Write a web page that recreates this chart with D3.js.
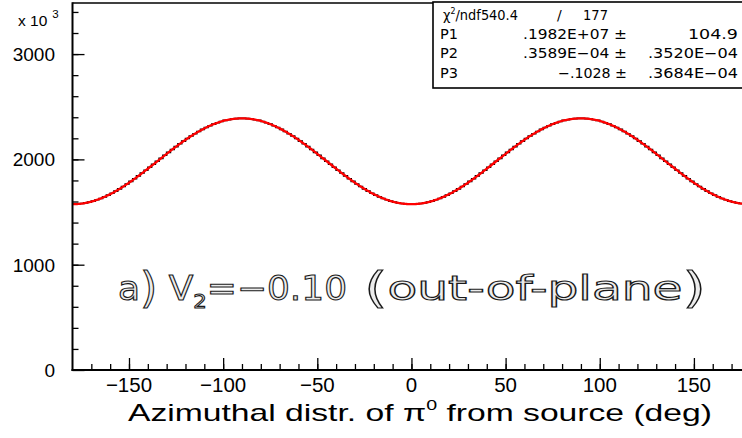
<!DOCTYPE html>
<html>
<head>
<meta charset="utf-8">
<script src="https://cdn.jsdelivr.net/npm/d3@7"></script>
<style>
  html, body { margin: 0; padding: 0; background: #fff; }
  svg { display: block; }
  text { font-family: "Liberation Sans", Arial, sans-serif; fill: #000; }
</style>
</head>
<body>
<svg id="chart" width="742" height="438"></svg>
<script>
// Histogram: azimuthal distribution, 180 bins of 2 deg over [-180, 180], counts in units of 10^3
const xDomain = [-180, 180];
const binCount = 180;
const counts = [
  1575,1577,1581,1587,1594,1604,1616,1629,1644,1661,1679,1699,1720,1742,1766,1791,1816,1843,1870,1897,1925,1954,1982,
  2010,2039,2067,2094,2121,2148,2173,2198,2222,2244,2265,2285,2303,2320,2335,2348,2360,2370,2377,2383,2387,2389,
  2389,2387,2383,2377,2370,2360,2348,2335,2320,2303,2285,2265,2244,2222,2198,2173,2148,2121,2094,2067,2039,2010,
  1982,1954,1925,1897,1870,1843,1816,1791,1766,1742,1720,1699,1679,1661,1644,1629,1616,1604,1594,1587,1581,1577,1575,
  1575,1577,1581,1587,1594,1604,1616,1629,1644,1661,1679,1699,1720,1742,1766,1791,1816,1843,1870,1897,1925,1954,1982,
  2010,2039,2067,2094,2121,2148,2173,2198,2222,2244,2265,2285,2303,2320,2335,2348,2360,2370,2377,2383,2387,2389,
  2389,2387,2383,2377,2370,2360,2348,2335,2320,2303,2285,2265,2244,2222,2198,2173,2148,2121,2094,2067,2039,2010,
  1982,1954,1925,1897,1870,1843,1816,1791,1766,1742,1720,1699,1679,1661,1644,1629,1616,1604,1594,1587,1581,1577,1575
];

// Fit parameters: P1 * (1 + 2 P2 cos(phi) + 2 P3 cos(2 phi))
const fitParams = { P1: 0.1982e7, P2: 0.3589e-4, P3: -0.1028 };
const fitScale = 1e3;

// Statistics box rows
const chiRow = { label: "/ndf", chi2: "540.4", ndf: "177" };
const paramRows = [
  { name: "P1", value: ".1982E+07 \u00b1", error: "104.9" },
  { name: "P2", value: ".3589E\u221204 \u00b1", error: ".3520E\u221204" },
  { name: "P3", value: "\u2212.1028 \u00b1", error: ".3684E\u221204" }
];

const xMajorTicks = [-150, -100, -50, 0, 50, 100, 150];
const yMajorTicks = [0, 1000, 2000, 3000];
const xTitle = "Azimuthal distr. of \u03c0";
const xTitleRest = " from source  (deg)";

(function draw() {
  const svg = d3.select("#chart");
  const pLeft = 72.5, pRight = 750.4, pTop = 3, pBottom = 370;

  const x = d3.scaleLinear().domain(xDomain).range([pLeft, pRight]);
  const y = d3.scaleLinear().domain([0, 3485]).range([pBottom, pTop]);

  svg.append("defs").append("clipPath").attr("id", "plotclip")
    .append("rect").attr("x", pLeft).attr("y", pTop).attr("width", pRight - pLeft).attr("height", pBottom - pTop);

  const plot = svg.append("g").attr("clip-path", "url(#plotclip)");

  // Histogram as steps
  const binWidth = (xDomain[1] - xDomain[0]) / binCount;
  const stepPts = counts.map((c, i) => [xDomain[0] + i * binWidth, c]);
  stepPts.push([xDomain[1], counts[counts.length - 1]]);
  plot.append("path")
    .attr("d", d3.line().x(d => x(d[0])).y(d => y(d[1])).curve(d3.curveStepAfter)(stepPts))
    .attr("fill", "none").attr("stroke", "#000").attr("stroke-width", 1.6);

  // Fit curve
  const fitFn = phi => {
    const r = phi * Math.PI / 180;
    return fitParams.P1 * (1 + 2 * fitParams.P2 * Math.cos(r) + 2 * fitParams.P3 * Math.cos(2 * r)) / fitScale;
  };
  const fitPts = d3.range(xDomain[0], xDomain[1] + 0.25, 0.5).map(p => [p, fitFn(p)]);
  plot.append("path")
    .attr("d", d3.line().x(d => x(d[0])).y(d => y(d[1])).curve(d3.curveLinear)(fitPts))
    .attr("fill", "none").attr("stroke", "#f00").attr("stroke-width", 2.3);

  // Frame
  svg.append("line").attr("x1", pLeft).attr("x2", pRight).attr("y1", pTop).attr("y2", pTop)
    .attr("stroke", "#000").attr("stroke-width", 1.6);

  // Axes with major/minor ticks
  const xAxisG = svg.append("g").attr("transform", `translate(0,${pBottom})`);
  xAxisG.call(d3.axisTop(x).tickValues(d3.range(-170, 181, 10)).tickSize(6).tickFormat(""));
  xAxisG.append("g").call(d3.axisTop(x).tickValues(xMajorTicks).tickSize(12).tickFormat(""));
  xAxisG.selectAll(".domain").remove();
  xAxisG.selectAll("line").attr("stroke", "#000").attr("stroke-width", 1.3);
  svg.append("line").attr("x1", pLeft - 1).attr("x2", pRight).attr("y1", pBottom).attr("y2", pBottom)
    .attr("stroke", "#000").attr("stroke-width", 2);
  svg.selectAll(".xlab").data(xMajorTicks).enter().append("text")
    .attr("x", d => x(d)).attr("y", 392).attr("text-anchor", "middle")
    .attr("font-size", 20.5).text(d => d < 0 ? "\u2212" + Math.abs(d) : String(d));

  const yAxisG = svg.append("g").attr("transform", `translate(${pLeft},0)`);
  yAxisG.call(d3.axisRight(y).tickValues(d3.range(200, 3485, 200)).tickSize(6).tickFormat(""));
  yAxisG.append("g").call(d3.axisRight(y).tickValues(yMajorTicks).tickSize(12).tickFormat(""));
  yAxisG.selectAll(".domain").remove();
  yAxisG.selectAll("line").attr("stroke", "#000").attr("stroke-width", 1.3);
  svg.append("line").attr("x1", pLeft).attr("x2", pLeft).attr("y1", pTop - 0.8).attr("y2", pBottom + 1)
    .attr("stroke", "#000").attr("stroke-width", 2);
  svg.selectAll(".ylab").data(yMajorTicks).enter().append("text")
    .attr("x", 55).attr("y", d => y(d) + 7).attr("text-anchor", "end")
    .attr("font-size", 19).text(d => String(d));

  // Axis multiplier
  const mult = svg.append("text").attr("x", 18).attr("y", 26).attr("font-size", 15.5);
  mult.append("tspan").text("x 10");
  mult.append("tspan").attr("dx", 5).attr("dy", -8).attr("font-size", 11.5).text("3");

  // X axis title
  const xt = svg.append("text").attr("x", 128).attr("y", 421).attr("font-size", 24)
    .attr("textLength", 584).attr("lengthAdjust", "spacingAndGlyphs");
  xt.append("tspan").text(xTitle);
  xt.append("tspan").attr("dy", -11).attr("font-size", 14).text("0");
  xt.append("tspan").attr("dy", 11).text(xTitleRest);

  // Statistics box
  const box = svg.append("g");
  box.append("rect").attr("x", 433).attr("y", 2).attr("width", 330).attr("height", 86)
    .attr("fill", "#fff").attr("stroke", "#000").attr("stroke-width", 1.6);
  const fs = 14;
  const boxText = (xx, yy, str, w) => {
    const t = box.append("text").attr("x", xx).attr("y", yy).attr("font-size", fs)
      .style("font-family", "'DejaVu Sans', sans-serif").text(str);
    if (w) t.attr("textLength", w).attr("lengthAdjust", "spacingAndGlyphs");
    return t;
  };
  const chiText = box.append("text").attr("x", 443).attr("y", 20).attr("font-size", fs)
    .style("font-family", "'DejaVu Sans', sans-serif")
    .attr("textLength", 75).attr("lengthAdjust", "spacingAndGlyphs");
  chiText.append("tspan").text("\u03c7");
  chiText.append("tspan").attr("dy", -6).attr("font-size", 8.5).text("2");
  chiText.append("tspan").attr("dy", 6).text(chiRow.label + chiRow.chi2);
  boxText(557, 20, "/");
  boxText(583, 20, chiRow.ndf, 25);
  const valueWidths = [104, 104, 69];
  const errorWidths = [50, 90, 90];
  paramRows.forEach((r, i) => {
    const yy = 39 + i * 19.3;
    boxText(440, yy, r.name, 18);
    boxText(627 - valueWidths[i], yy, r.value, valueWidths[i]);
    boxText(738 - errorWidths[i], yy, r.error, errorWidths[i]);
  });

  // Panel caption, outlined lettering
  const capStyle = t => t.attr("font-size", 34)
    .style("font-family", "'DejaVu Sans', sans-serif")
    .style("fill", "#ececec").attr("stroke", "#1a1a1a").attr("stroke-width", 1.1)
    .attr("lengthAdjust", "spacingAndGlyphs");
  const paren = (t, ch) => t.append("tspan").attr("font-size", 42).attr("dy", 3).text(ch);

  const capA = capStyle(svg.append("text").attr("x", 118).attr("y", 300)).attr("textLength", 229);
  capA.append("tspan").text("a");
  paren(capA, ")");
  capA.append("tspan").attr("dy", -3).text(" V");
  capA.append("tspan").attr("dy", 8).attr("font-size", 20).text("2");
  capA.append("tspan").attr("dy", -8).text("=\u22120.10");

  const capB = capStyle(svg.append("text").attr("x", 364).attr("y", 300)).attr("textLength", 342);
  paren(capB, "(");
  capB.append("tspan").attr("dy", -3).text("out-of-plane");
  paren(capB, ")");
})();
</script>
</body>
</html>
